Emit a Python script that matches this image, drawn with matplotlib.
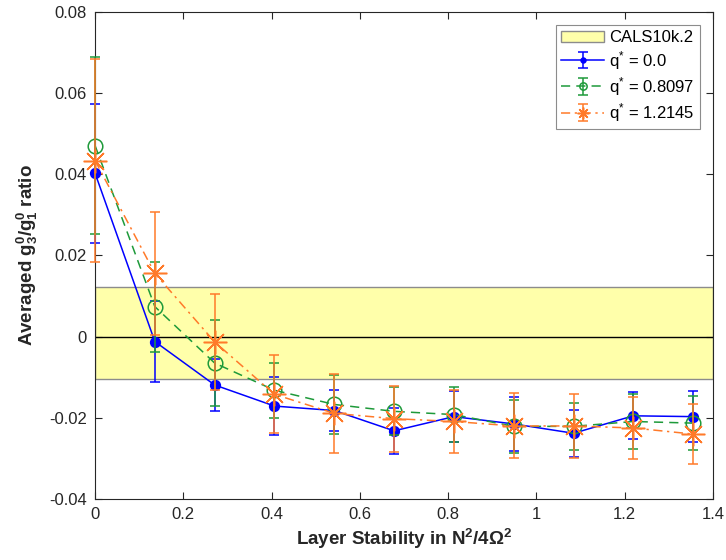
import numpy as np
import matplotlib.pyplot as plt

plt.rcParams['font.family'] = ['Liberation Sans', 'DejaVu Sans']
plt.rcParams['mathtext.fontset'] = 'custom'
plt.rcParams['mathtext.rm'] = 'Liberation Sans'
plt.rcParams['mathtext.it'] = 'Liberation Sans'
plt.rcParams['mathtext.bf'] = 'Liberation Sans:bold'
plt.rcParams['axes.unicode_minus'] = False

# layer stability N^2/4Omega^2
stability = [0.0, 0.1355, 0.271, 0.4065, 0.542, 0.6775, 0.813, 0.9485, 1.084, 1.2195, 1.355]

# averaged g30/g10 ratio and its spread for each q*
ratio_q0 = [0.0403, -0.0012, -0.0119, -0.0171, -0.0182, -0.0232, -0.0197, -0.0215, -0.0238, -0.0195, -0.0197]
err_q0 = [0.0171, 0.0099, 0.0063, 0.0072, 0.0050, 0.0057, 0.0063, 0.0066, 0.0058, 0.0058, 0.0062]

ratio_q1 = [0.0471, 0.0074, -0.0065, -0.0132, -0.0167, -0.0184, -0.0192, -0.0221, -0.0221, -0.0209, -0.0213]
err_q1 = [0.0218, 0.0111, 0.0107, 0.0068, 0.0073, 0.0059, 0.0067, 0.0065, 0.0058, 0.0068, 0.0066]

ratio_q2 = [0.0434, 0.0156, -0.0013, -0.0142, -0.0189, -0.0202, -0.0209, -0.0220, -0.0220, -0.0225, -0.0240]
err_q2 = [0.0250, 0.0152, 0.0118, 0.0096, 0.0097, 0.0081, 0.0078, 0.0080, 0.0078, 0.0077, 0.0073]

# CALS10k.2 range
cals_low = -0.0105
cals_high = 0.0122

x_ticks = [0, 0.2, 0.4, 0.6, 0.8, 1.0, 1.2, 1.4]
x_ticklabels = ['0', '0.2', '0.4', '0.6', '0.8', '1', '1.2', '1.4']
y_ticks = [-0.04, -0.02, 0, 0.02, 0.04, 0.06, 0.08]
y_ticklabels = ['-0.04', '-0.02', '0', '0.02', '0.04', '0.06', '0.08']

blue = '#0000FF'
green = '#1E9A3A'
orange = '#FF7A2A'
axis_grey = '#262626'

fig = plt.figure(figsize=(7.26, 5.6), dpi=100)
ax = fig.add_axes([0.1309, 0.1089, 0.8512, 0.8697])

ax.axhspan(cals_low, cals_high, facecolor='#FFFFAA', edgecolor='#8C8C8C',
           linewidth=1.0, zorder=1, label='CALS10k.2')
ax.axhline(0, color='black', linewidth=1.0, zorder=2)

series = [
    (ratio_q0, err_q0, blue, '-', 'o', 7, blue, 'q$^{*}$ = 0.0'),
    (ratio_q1, err_q1, green, (0, (6, 4)), 'o', 10.5, 'none', 'q$^{*}$ = 0.8097'),
    (ratio_q2, err_q2, orange, (0, (6, 3, 1.5, 3)), (8, 2, 0), 17, orange, 'q$^{*}$ = 1.2145'),
]
for k, (vals, errs, col, ls, mk, ms, mfc, lab) in enumerate(series):
    eb = ax.errorbar(stability, vals, yerr=errs, color=col, linestyle=ls,
                     linewidth=1.1, marker=mk, markersize=ms, markerfacecolor=mfc,
                     markeredgecolor=col, markeredgewidth=1.1, capsize=3.6,
                     elinewidth=1.1, zorder=3 + k, label=lab)
    # MATLAB-style: markers and caps at the axis edge are not clipped
    for art in eb.get_children():
        art.set_clip_on(False)

ax.set_xlim(0, 1.4)
ax.set_ylim(-0.04, 0.08)
ax.set_xticks(x_ticks)
ax.set_xticklabels(x_ticklabels)
ax.set_yticks(y_ticks)
ax.set_yticklabels(y_ticklabels)
ax.tick_params(direction='in', top=True, right=True, length=5, width=0.8,
               labelsize=12, colors=axis_grey, pad=6)
for spine in ax.spines.values():
    spine.set_color(axis_grey)
    spine.set_linewidth(0.8)

ax.set_xlabel(r'Layer Stability in $\mathbf{N^2/4\Omega^2}$', fontsize=13.5,
              fontweight='bold', color=axis_grey, labelpad=3)
ax.set_ylabel(r'Averaged $\mathbf{g_3^0/g_1^0}$ ratio', fontsize=13.5,
              fontweight='bold', color=axis_grey, labelpad=6)

leg = ax.legend(loc='upper right', fontsize=12, fancybox=False, framealpha=1,
                edgecolor='#8C8C8C', borderaxespad=0.8, handlelength=2.6,
                handletextpad=0.3, labelspacing=0.2, borderpad=0.3,
                markerscale=0.5)
leg.get_frame().set_linewidth(0.8)

fig.savefig('out.png', dpi=100)
